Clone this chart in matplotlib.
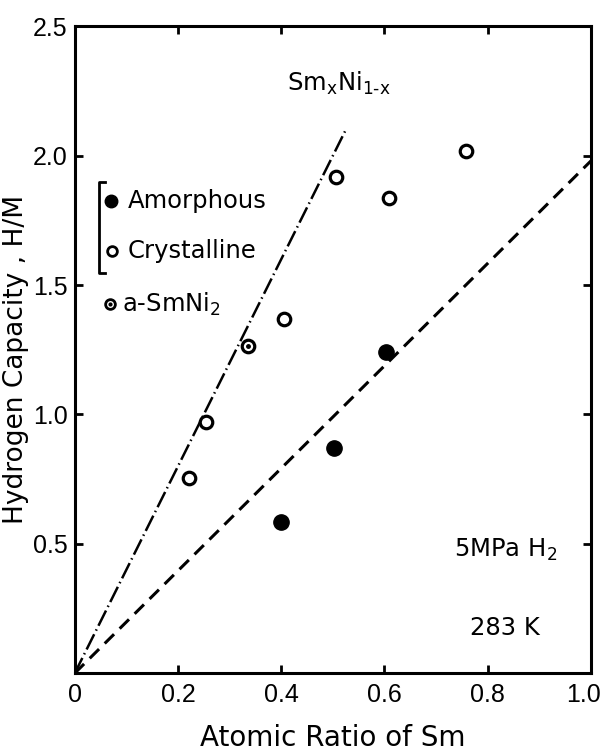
import matplotlib.pyplot as plt
import numpy as np

# measured points
amorph_x = [0.40, 0.503, 0.603]
amorph_y = [0.586, 0.869, 1.24]
cryst_x = [0.222, 0.254, 0.406, 0.506, 0.608, 0.758]
cryst_y = [0.754, 0.97, 1.37, 1.917, 1.837, 2.02]
asmni2_x = [0.335]
asmni2_y = [1.263]

# guide lines: H/M = k * x
dashdot_slope, dashdot_xmax = 4.0, 0.525
dashed_slope, dashed_xmax = 1.98, 1.0

xticks = [0, 0.2, 0.4, 0.6, 0.8, 1.0]
xticklabels = ['0', '0.2', '0.4', '0.6', '0.8', '']   # '1.0' placed by hand, edge
yticks = [0.5, 1.0, 1.5, 2.0, 2.5]
yticklabels = ['0.5', '1.0', '1.5', '2.0', '2.5']

plt.rcParams['font.family'] = ['DejaVu Sans']
tickfont = ['Liberation Sans', 'DejaVu Sans']
fig = plt.figure(figsize=(6.03, 7.53), dpi=100)
ax = fig.add_axes([0.124, 0.106, 0.856, 0.859])

xx = np.array([0, dashdot_xmax])
ax.plot(xx, dashdot_slope * xx, color='k', lw=1.8, dashes=(6.8, 1.6, 0.6, 1.6))
xx = np.array([0, dashed_xmax])
ax.plot(xx, dashed_slope * xx, color='k', lw=2.2, dashes=(4.3, 2.6))

ax.plot(amorph_x, amorph_y, 'o', color='k', ms=11, ls='none')
ax.plot(cryst_x, cryst_y, 'o', mfc='white', mec='k', mew=2.3, ms=9, ls='none')
ax.plot(asmni2_x, asmni2_y, 'o', mfc='white', mec='k', mew=2.3, ms=9, ls='none')
ax.plot(asmni2_x, asmni2_y, 'o', color='k', ms=2.5, ls='none')

# hand-made legend
fs = 17.5
ax.plot([0.071], [1.826], 'o', color='k', ms=9)
ax.text(0.103, 1.826, 'Amorphous', fontsize=fs, va='center', ha='left')
ax.plot([0.073], [1.633], 'o', mfc='white', mec='k', mew=2, ms=7)
ax.text(0.103, 1.633, 'Crystalline', fontsize=fs, va='center', ha='left')
ax.plot([0.068], [1.425], 'o', mfc='white', mec='k', mew=2, ms=7)
ax.plot([0.068], [1.425], 'o', color='k', ms=2)
ax.text(0.092, 1.425, r'a-SmNi$_\mathregular{2}$', fontsize=fs, va='center', ha='left')
ax.plot([0.058, 0.047, 0.047, 0.058], [1.90, 1.90, 1.545, 1.545], color='k', lw=2)

ax.text(0.411, 2.28, 'Sm$_\\mathregular{x}$Ni$_\\mathregular{1\u2010x}$', fontsize=fs,
        va='center', ha='left')
ax.text(0.734, 0.475, r'5MPa H$_\mathregular{2}$', fontsize=fs, va='center', ha='left')
ax.text(0.833, 0.174, '283 K', fontsize=fs, va='center', ha='center')

ax.set_xlim(0, 1.0)
ax.set_ylim(0, 2.5)
ax.set_xticks(xticks)
ax.set_xticklabels(xticklabels, family=tickfont)
ax.set_yticks(yticks)
ax.set_yticklabels(yticklabels, family=tickfont)
ax.tick_params(direction='in', top=True, right=True, length=6, width=2,
               labelsize=18, pad=7)
ax.tick_params(axis='y', pad=5)
for s in ax.spines.values():
    s.set_linewidth(2.2)

# last x label, nudged left so it stays on the canvas
ax.annotate('1.0', xy=(1.0, 0), xycoords='axes fraction', xytext=(-5, -7),
            textcoords='offset points', ha='center', va='top',
            fontsize=18, family=tickfont)

ax.set_xlabel('Atomic Ratio of Sm', fontsize=20)
ax.xaxis.set_label_coords(0.5, -0.100)
ax.xaxis.label.set_va('center')
ax.set_ylabel('Hydrogen Capacity , H/M', fontsize=19)
ax.yaxis.set_label_coords(-0.113, 0.485)
ax.yaxis.label.set_va('center')

fig.savefig('out.png', dpi=100)
